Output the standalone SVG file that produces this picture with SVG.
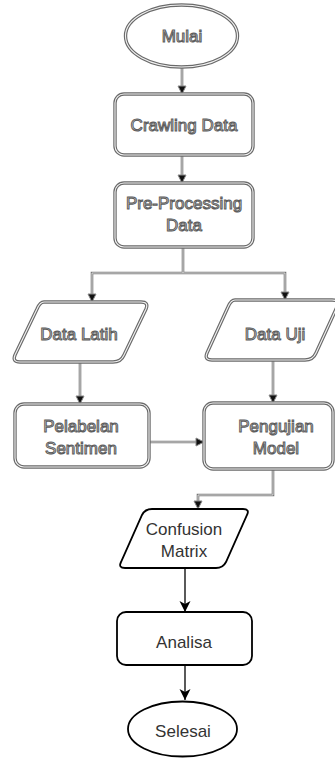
<svg xmlns="http://www.w3.org/2000/svg" width="335" height="758" viewBox="0 0 335 758">
<defs>
<style>
.o{fill:none;stroke:#6a6a6a;stroke-width:3.4}
.i{fill:none;stroke:#f2f2f2;stroke-width:1.1}
.bg{fill:#fff}
.lo{fill:none;stroke:#777;stroke-width:2.6}
.li{fill:none;stroke:#eee;stroke-width:0.8}
.t{font-family:"Liberation Sans",Arial,sans-serif;font-size:17px;text-anchor:middle}
.tg{fill:#e6e6e6;stroke:#5c5c5c;stroke-width:1}
.tb{fill:#333}
.b{fill:#fff;stroke:#000;stroke-width:1.8}
.bl{fill:none;stroke:#000;stroke-width:1.3}
</style>
<marker id="ag" markerWidth="10" markerHeight="10" refX="9" refY="5" orient="auto" markerUnits="userSpaceOnUse">
<path d="M1,1 L9,5 L1,9 Z" fill="#111" stroke="#888" stroke-width="1"/>
</marker>
<marker id="ab" markerWidth="12" markerHeight="12" refX="11" refY="6" orient="auto" markerUnits="userSpaceOnUse">
<path d="M0,0.5 L11,6 L0,11.5 L3,6 Z" fill="#000"/>
</marker>
</defs>
<rect width="335" height="758" fill="#fff"/>
<g id="connectors">
<path class="lo" d="M182 67 V90"/><path class="li" d="M182 67 V90"/>
<path d="M182 86 V94" fill="none" marker-end="url(#ag)"/>
<path class="lo" d="M182 155 V179"/><path class="li" d="M182 155 V179"/>
<path d="M182 175 V183" fill="none" marker-end="url(#ag)"/>
<path class="lo" d="M183 247 V273 H92 V298 M183 273 H285 V296"/><path class="li" d="M183 247 V273 H92 V298 M183 273 H285 V296"/>
<path d="M92 294 V302" fill="none" marker-end="url(#ag)"/>
<path d="M285 292 V300" fill="none" marker-end="url(#ag)"/>
<path class="lo" d="M80 362 V400"/><path class="li" d="M80 362 V400"/>
<path d="M80 396 V404" fill="none" marker-end="url(#ag)"/>
<path class="lo" d="M273 360 V399"/><path class="li" d="M273 360 V399"/>
<path d="M273 395 V403" fill="none" marker-end="url(#ag)"/>
<path class="lo" d="M149 442 H199"/><path class="li" d="M149 442 H199"/>
<path d="M195 442 H204" fill="none" marker-end="url(#ag)"/>
<path class="lo" d="M273 467 V495 H198 V505"/><path class="li" d="M273 467 V495 H198 V505"/>
<path d="M198 501 V509" fill="none" marker-end="url(#ag)"/>
<path class="bl" d="M185 568 V612" marker-end="url(#ab)"/>
<path class="bl" d="M185 665 V700" marker-end="url(#ab)"/>
</g>
<g id="mulai">
<ellipse class="bg" cx="181.5" cy="36" rx="56" ry="31"/>
<ellipse class="o" cx="181.5" cy="36" rx="56" ry="31"/>
<ellipse class="i" cx="181.5" cy="36" rx="56" ry="31"/>
<text class="t tg" x="182" y="42">Mulai</text>
</g>
<g id="crawling">
<rect class="bg" x="115" y="94" width="138" height="61" rx="9"/>
<rect class="o" x="115" y="94" width="138" height="61" rx="9"/>
<rect class="i" x="115" y="94" width="138" height="61" rx="9"/>
<text class="t tg" x="184" y="131">Crawling Data</text>
</g>
<g id="preprocessing">
<rect class="bg" x="115" y="183" width="138" height="64" rx="9"/>
<rect class="o" x="115" y="183" width="138" height="64" rx="9"/>
<rect class="i" x="115" y="183" width="138" height="64" rx="9"/>
<text class="t tg" x="184" y="209">Pre-Processing</text>
<text class="t tg" x="184" y="231">Data</text>
</g>
<g id="datalatih">
<path class="bg" d="M44 302 H141 Q149 302 146 309 L124 355 Q121 362 113 362 H20 Q12 362 15 355 L37 309 Q40 302 44 302 Z"/>
<path class="o" d="M44 302 H141 Q149 302 146 309 L124 355 Q121 362 113 362 H20 Q12 362 15 355 L37 309 Q40 302 44 302 Z"/>
<path class="i" d="M44 302 H141 Q149 302 146 309 L124 355 Q121 362 113 362 H20 Q12 362 15 355 L37 309 Q40 302 44 302 Z"/>
<text class="t tg" x="79" y="340">Data Latih</text>
</g>
<g id="datauji">
<path class="bg" d="M235 300 H332 Q340 300 337 307 L316 353 Q313 360 305 360 H212 Q204 360 207 353 L228 307 Q231 300 235 300 Z"/>
<path class="o" d="M235 300 H332 Q340 300 337 307 L316 353 Q313 360 305 360 H212 Q204 360 207 353 L228 307 Q231 300 235 300 Z"/>
<path class="i" d="M235 300 H332 Q340 300 337 307 L316 353 Q313 360 305 360 H212 Q204 360 207 353 L228 307 Q231 300 235 300 Z"/>
<text class="t tg" x="275" y="340">Data Uji</text>
</g>
<g id="pelabelan">
<rect class="bg" x="15" y="404" width="134" height="63" rx="9"/>
<rect class="o" x="15" y="404" width="134" height="63" rx="9"/>
<rect class="i" x="15" y="404" width="134" height="63" rx="9"/>
<text class="t tg" x="81" y="432">Pelabelan</text>
<text class="t tg" x="81" y="454">Sentimen</text>
</g>
<g id="pengujian">
<rect class="bg" x="204" y="403" width="129" height="66" rx="9"/>
<rect class="o" x="204" y="403" width="129" height="66" rx="9"/>
<rect class="i" x="204" y="403" width="129" height="66" rx="9"/>
<text class="t tg" x="276" y="432">Pengujian</text>
<text class="t tg" x="276" y="454">Model</text>
</g>
<g id="confusion">
<path class="b" d="M152 509 H243 Q250 509 247 515 L226 562 Q223 568 216 568 H125 Q118 568 121 562 L142 515 Q145 509 152 509 Z"/>
<text class="t tb" x="184" y="535">Confusion</text>
<text class="t tb" x="184" y="557">Matrix</text>
</g>
<g id="analisa">
<rect class="b" x="117" y="612" width="135" height="53" rx="9"/>
<text class="t tb" x="184" y="648">Analisa</text>
</g>
<g id="selesai">
<ellipse class="b" cx="182.5" cy="729" rx="54.5" ry="27.5"/>
<text class="t tb" x="183" y="737">Selesai</text>
</g>
</svg>
